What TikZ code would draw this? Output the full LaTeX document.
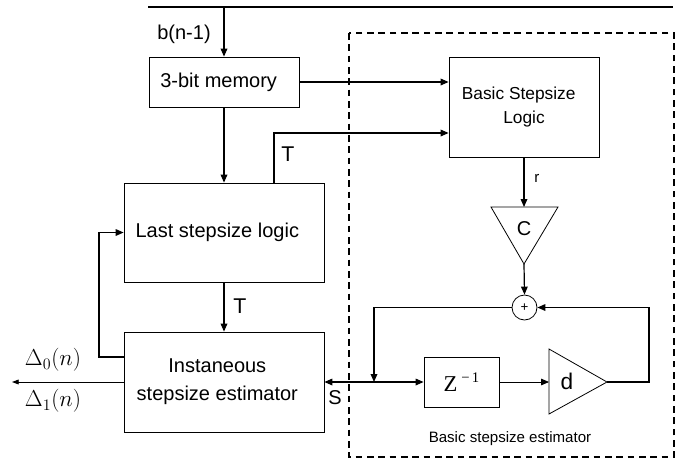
\documentclass[tikz,border=0pt]{standalone}
\usepackage{fontspec}
\setmainfont{Liberation Sans}
\newfontfamily\serifface{Liberation Serif}
\usetikzlibrary{arrows.meta,calc}

\begin{document}
\begin{tikzpicture}[x=0.75pt,y=-0.75pt,
  wire/.style={line width=0.9pt},
  tip/.tip={Triangle[length=6pt,width=5pt]},
  arr/.style={wire,-tip},
  block/.style={draw,line width=0.6pt,inner sep=0pt,align=center},
  big/.style={font=\fontsize{15}{18}\selectfont},
  mid/.style={font=\fontsize{13}{16}\selectfont},
  small/.style={font=\fontsize{11.3}{13}\selectfont},
]
\useasboundingbox (0,0) rectangle (678,458);

% estimator region
\draw[line width=0.8pt,dash pattern=on 5pt off 3.5pt] (349,33) rectangle (674,457);
\node[small] (estlbl) at (510,439) {Basic stepsize estimator};

% blocks
\node[block,big,minimum width=112.5pt,minimum height=37.5pt] (mem) at (224,82) {\hspace*{-8pt}3-bit memory};
\node[block,mid,minimum width=112.5pt,minimum height=75pt] (bsl) at (524,107) {\hspace*{-8pt}Basic Stepsize\\[2pt]Logic};
\node[block,big,minimum width=150pt,minimum height=74.25pt] (last) at (224,232.5) {\hspace*{-10pt}Last stepsize logic};
\node[block,big,minimum width=150pt,minimum height=75pt] (inst) at (224,382) {\hspace*{-10pt}Instaneous\\[3pt]\hspace*{-10pt}stepsize estimator};
\node[block,minimum width=56.25pt,minimum height=37.5pt] (zbox) at (461.5,382)
  {\serifface\fontsize{17}{20}\selectfont Z\,\raisebox{0.9ex}{\fontsize{11}{12}\selectfont −\,1}};
\node[draw,circle,line width=0.6pt,minimum size=18.75pt,inner sep=0pt,font=\fontsize{10}{12}\selectfont] (sum) at (524.5,307.5) {+};

% gain C
\coordinate (cL) at (491,207);
\coordinate (cR) at (558,207);
\coordinate (cA) at (524,264);
\coordinate (cTop) at (524,207);
\draw[line width=0.6pt] (cL) -- (cR) -- (cA) -- cycle;
\node[big] (clbl) at (524,229) {C};

% gain d
\coordinate (dT) at (549,349);
\coordinate (dB) at (549,414);
\coordinate (dA) at (607,382);
\coordinate (dIn) at (549,382);
\draw[line width=0.6pt] (dT) -- (dA) -- (dB) -- cycle;
\node[font=\fontsize{17}{20}\selectfont] (dlbl) at (567,381) {d};

% input bus
\coordinate (busL) at (148,7);
\coordinate (busR) at (673,7);
\coordinate (tap) at (224,7);
\draw[wire] (busL) -- (busR);
\draw[arr] (tap) -- (mem.north);
\node[big] (blbl) at (184,34) {b(n-1)};

% memory outputs
\draw[arr] (mem.east) -- (mem.east -| bsl.west);
\draw[arr] (mem.south) -- (last.north);

% T to basic stepsize logic
\coordinate (tUp) at (274,133);
\draw[arr] (last.north -| tUp) -- (tUp) -- (tUp -| bsl.west);
\node[font=\fontsize{16}{18}\selectfont] (t1) at (288,154) {T};

% T to estimator
\draw[arr] (last.south) -- (inst.north);
\node[font=\fontsize{16}{18}\selectfont] (t2) at (240,306) {T};

% feedback to last stepsize logic
\coordinate (fb) at (99,357);
\draw[arr] (inst.west |- fb) -- (fb) |- (last.west);

% outputs
\coordinate (outL) at (12,382);
\draw[line width=0.6pt,-{Triangle[length=5pt,width=3.6pt]}] (inst.west) -- (outL);
\node[font=\fontsize{17}{20}\selectfont] (d0) at (53,360) {$\Delta_0(n)$};
\node[font=\fontsize{17}{20}\selectfont] (d1) at (53,401) {$\Delta_1(n)$};

% S link
\draw[wire,tip-tip] (inst.east) -- (zbox.west);
\node[big] (slbl) at (335,398) {S};
\coordinate (jn) at (374,382);

% basic stepsize path
\draw[arr] (bsl.south) -- (cTop);
\node[small] (rlbl) at (537,178) {r};
\draw[arr] (cA) -- (sum.north);
\draw[arr] (sum.west) -| (jn);
\draw[line width=0.6pt,-tip] (zbox.east) -- (dIn);
\coordinate (ret) at (649,382);
\draw[arr] (dA) -- (ret) |- (sum.east);
\end{tikzpicture}
\end{document}
